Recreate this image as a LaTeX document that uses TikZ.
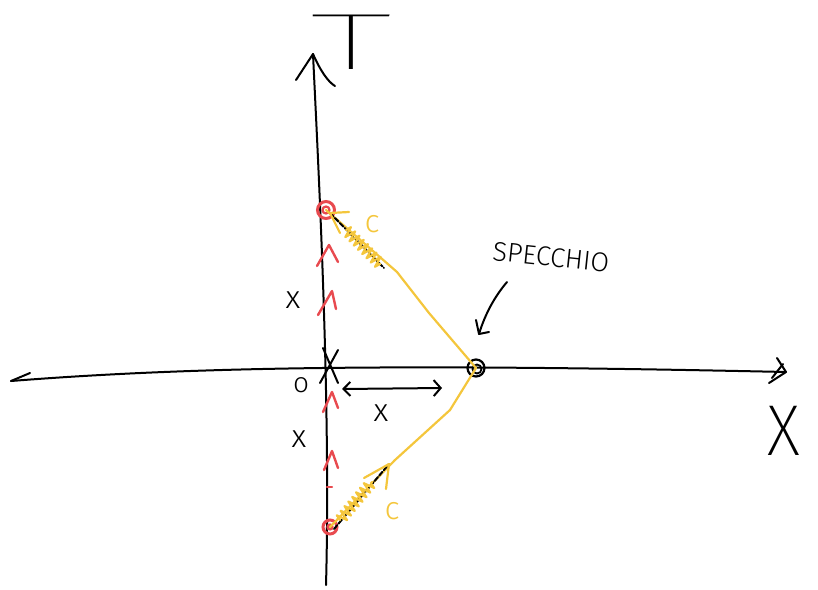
\documentclass[tikz,border=0pt]{standalone}
\usepackage{fontspec}
\setmainfont{Liberation Sans}
\newfontfamily\hand{Fira Sans Light}
\newfontfamily\handthin{Fira Sans ExtraLight}
\newfontfamily\handhair{Fira Sans Thin}
\usetikzlibrary{arrows.meta,decorations.pathmorphing}
\definecolor{hred}{RGB}{232,74,79}
\definecolor{hyel}{RGB}{244,198,60}
\begin{document}
\begin{tikzpicture}[x=1pt,y=-1pt,
  ink/.style={line width=2pt,line cap=round,line join=round},
  yink/.style={ink,draw=hyel,line width=2.2pt},
  rink/.style={ink,draw=hred},
  lbl/.style={inner sep=0pt,font=\hand\fontsize{32}{32}\selectfont},
  ylbl/.style={lbl,text=hyel},
  zig/.style={yink,decorate,decoration={zigzag,segment length=6pt,amplitude=5.5pt}},
  chev/.style={rink,line width=2.4pt},
]
\useasboundingbox (0,0) rectangle (818,589);

% ---- T axis
\coordinate (tbot) at (326,585);
\coordinate (ttop) at (313,54);
\draw[ink] (tbot) .. controls (331,400) and (318,160) .. (ttop);
\draw[ink] (296,80) -- (ttop) .. controls (320,70) and (328,82) .. (335,86);
\node[inner sep=0pt,font=\handhair\fontsize{80}{80}\selectfont,anchor=south] (Tlab) at (351,70) {\scalebox{2.15}[1]{T}};

% ---- X axis
\coordinate (xl) at (11,381);
\coordinate (xr) at (786,372);
\draw[ink] (xl) .. controls (200,366) and (420,364) .. (xr);
\draw[ink] (30,373) -- (xl);
\draw[ink] (777,358) -- (xr) -- (769,383);
\draw[ink] (783,364) -- (772,378);
\node[inner sep=0pt,font=\handthin\fontsize{72}{72}\selectfont,anchor=south] (Xlab) at (784,456) {\scalebox{0.9}[1]{X}};

% ---- origin
\draw[ink] (323,348) -- (338,383);
\draw[ink] (338,350) -- (320,383);
\node[lbl,font=\hand\fontsize{28}{28}\selectfont] (olab) at (301,385) {o};

% ---- events
\node[circle,draw=hred,line width=3pt,minimum size=17pt,inner sep=0pt] (e1) at (326,210) {};
\node[circle,draw=hred,line width=3pt,minimum size=14pt,inner sep=0pt] (e2) at (330,527) {};
\node[circle,draw=black,line width=2.2pt,minimum size=17pt,inner sep=0pt] (m) at (476,368) {};
\node[circle,draw=black,line width=1.8pt,minimum size=9pt,inner sep=0pt] (m2) at (477,369) {};
\draw[hred,line width=2.2pt] (e1.center) circle (3.5pt);
\draw[hred,line width=2.2pt] (e2.center) circle (2.5pt);

% ---- light rays
\draw[yink] (e1.center) -- (397,272) -- (429,313) -- (m.center);
\draw[yink] (m.center) -- (450,410) -- (417,440) -- (395,460) -- (e2.center);

% upper: black segment, zigzag, arrow head
\coordinate (u1) at (330,213);
\coordinate (u2) at (384,268);
\draw[ink,dash pattern=on 5pt off 2pt] (u1) -- (u2);
\draw[zig] (346,230) -- (380,264);
\draw[yink] (349,212) -- (u1) -- (340,233);
\node[ylbl] (c1) at (372,224) {c};

% lower: black segment, zigzag, arrow head
\coordinate (l1) at (334,529);
\coordinate (l2) at (389,464);
\draw[ink,dash pattern=on 5pt off 2pt] (l1) -- (l2);
\draw[zig] (340,520) -- (372,482);
\draw[yink] (364,478) -- (l2) -- (386,489);
\node[ylbl] (c2) at (392,511) {c};

% ---- red worldline chevrons
\draw[chev] (317,266) -- (329,245) -- (338,262);
\draw[chev] (318,315) -- (332,291) -- (336,309);
\draw[chev] (323,412) -- (332,392) -- (338,408);
\draw[chev] (324,470) -- (332,451) -- (338,468);
\draw[chev] (327,487) -- (332,487);

% ---- distance labels
\node[lbl] (x1) at (293,300) {x};
\node[lbl] (x2) at (299,439) {x};
\node[lbl] (x3) at (381,413) {x};
\coordinate (da) at (342,389);
\coordinate (db) at (442,388);
\draw[ink,{Straight Barb[length=7pt,width=14pt]}-{Straight Barb[length=7pt,width=16pt]}] (da) -- (db);

% ---- mirror label
\node[inner sep=0pt,font=\hand\fontsize{27}{27}\selectfont,rotate=-6] (spec) at (551,257) {SPECCHIO};
\coordinate (p1) at (507,282);
\coordinate (p2) at (479,334);
\draw[ink] (p1) .. controls (495,296) and (485,314) .. (p2);
\draw[ink] (476,320) -- (p2) -- (489,332);
\end{tikzpicture}
\end{document}
